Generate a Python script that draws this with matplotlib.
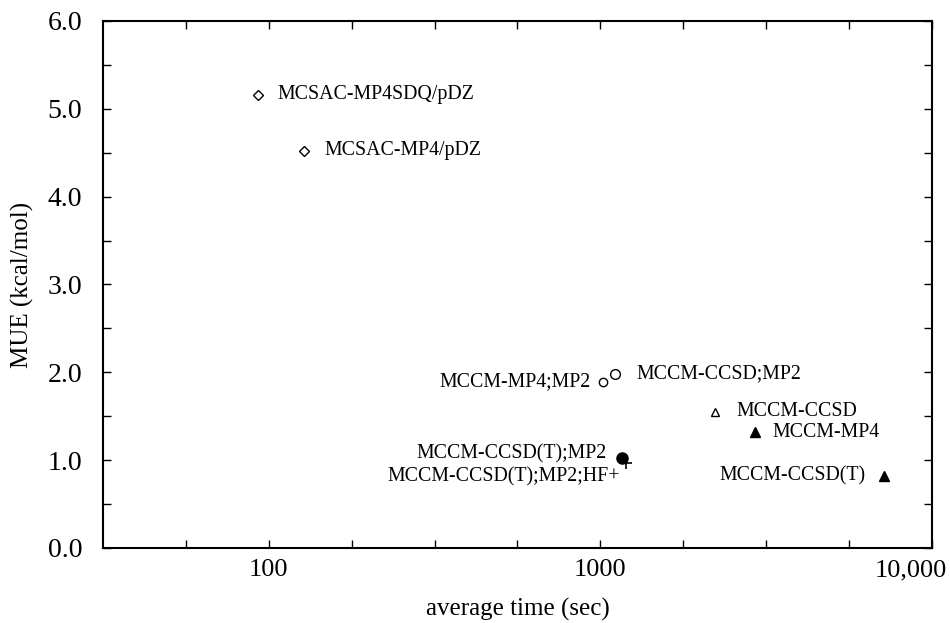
import numpy as np
import matplotlib
matplotlib.use("Agg")
import matplotlib.pyplot as plt
import matplotlib.transforms as mtransforms
from matplotlib.ticker import FixedLocator, FixedFormatter, FuncFormatter, MultipleLocator, NullFormatter

plt.rcParams['font.family'] = ['Liberation Serif', 'DejaVu Serif']

# methods: average time (sec), MUE (kcal/mol)
names = ["MCSAC-MP4SDQ/pDZ", "MCSAC-MP4/pDZ", "MCCM-MP4;MP2", "MCCM-CCSD;MP2",
         "MCCM-CCSD(T);MP2", "MCCM-CCSD(T);MP2;HF+", "MCCM-CCSD", "MCCM-MP4", "MCCM-CCSD(T)"]
times = [93, 128, 1016, 1104, 1159, 1192, 2223, 2918, 7145]
mue = [5.16, 4.52, 1.89, 1.98, 1.03, 0.97, 1.55, 1.32, 0.82]

xticks = [100, 1000, 10000]
xticklabels = ["100", "1000", "10,000"]

# marker style per point
markers = ["D", "D", "o", "o", "o", "+", "^", "^", "^"]
filled = [False, False, False, False, True, False, False, True, True]
msizes = [5, 5, 6, 7, 8, 8, 6, 7, 7]
# label offset in pixels and alignment
offsets = [(19, 0), (20, 0), (-12, 0), (22, 0), (-15, 4), (-6, -14), (21, 0), (18, 0), (-18, 0)]
aligns = ["left", "left", "right", "left", "right", "right", "left", "left", "right"]

fig = plt.figure(figsize=(9.5, 6.23), dpi=100)
ax = fig.add_axes([0.1084, 0.1204, 0.8726, 0.8459])

for t, m, mk, f, ms in zip(times, mue, markers, filled, msizes):
    if mk == "+":
        ax.plot(t, m, marker="+", color="black", markersize=ms, mew=1.2, linestyle="none")
    else:
        ax.plot(t, m, marker=mk, markersize=ms, linestyle="none",
                markerfacecolor="black" if f else "white",
                markeredgecolor="black", mew=1.0)

for n, t, m, off, ha in zip(names, times, mue, offsets, aligns):
    ax.annotate(n, (t, m), xytext=off, textcoords="offset pixels",
                ha=ha, va="center", fontsize=14.3)

ax.set_xscale("log")
ax.set_xlim(10 ** 1.5, 10 ** 4)
ax.set_ylim(0, 6)

ax.xaxis.set_major_locator(FixedLocator(xticks))
ax.xaxis.set_major_formatter(FixedFormatter(xticklabels))
ax.xaxis.set_minor_locator(FixedLocator([10 ** e for e in np.arange(1.75, 4.0, 0.25)]))
ax.xaxis.set_minor_formatter(NullFormatter())

ax.yaxis.set_major_locator(MultipleLocator(1.0))
ax.yaxis.set_minor_locator(MultipleLocator(0.5))
ax.yaxis.set_major_formatter(FuncFormatter(lambda v, p: "%.1f" % v))

ax.tick_params(which="both", direction="in", top=True, right=True, length=6, width=1.0,
               labelsize=19, pad=8)
ax.tick_params(axis="y", labelsize=20, pad=15)
for s in ax.spines.values():
    s.set_linewidth(1.5)

# last x label sits a bit left of its tick, as in the original
fig.canvas.draw()
lab = ax.get_xticklabels()[-1]
lab.set_transform(lab.get_transform() + mtransforms.ScaledTranslation(-0.21, 0, fig.dpi_scale_trans))

ax.set_xlabel("average time (sec)", fontsize=18, labelpad=12)
ax.set_ylabel("MUE (kcal/mol)", fontsize=18, labelpad=10)

fig.savefig("out.png", dpi=100)
